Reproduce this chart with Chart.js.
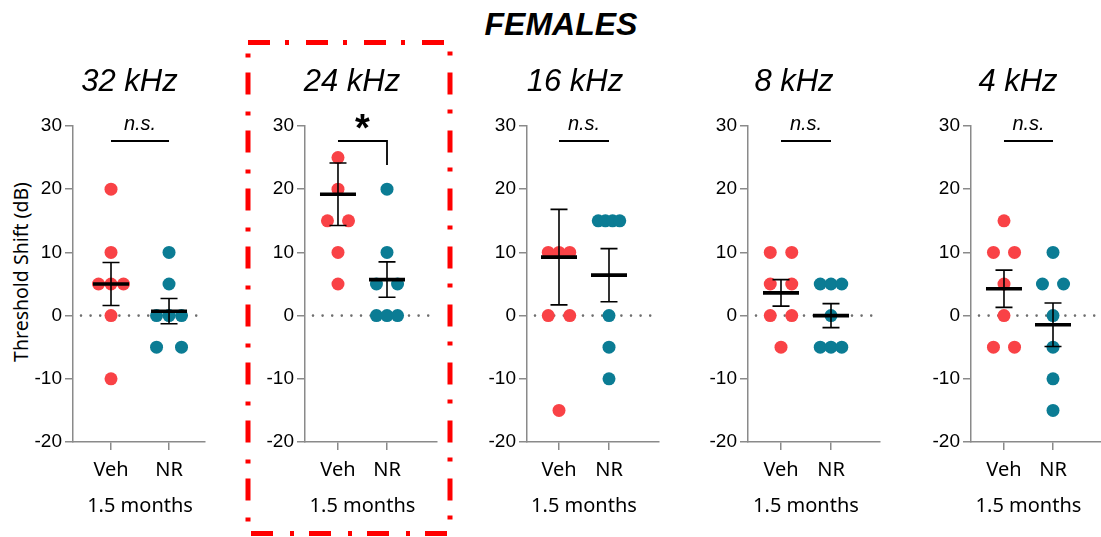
<!DOCTYPE html>
<html>
<head>
<meta charset="utf-8">
<script src="https://cdn.jsdelivr.net/npm/chart.js@4.4.1/dist/chart.umd.min.js"></script>
<style>
body{margin:0;background:#fff;width:1101px;height:537px;overflow:hidden;position:relative;font-family:"Liberation Sans",Arial,sans-serif;color:#000}
.panel{position:absolute;top:0}
.ttl{position:absolute;top:65px;font-style:italic;font-size:31px;line-height:32px;white-space:nowrap;transform:translateX(-50%)}
#main{position:absolute;top:8px;left:561px;font-style:italic;font-weight:bold;font-size:32px;line-height:32px;transform:translateX(-50%)}
#ylab{position:absolute;left:20px;top:272px;font-family:"Noto Sans",sans-serif;font-size:19.5px;white-space:nowrap;transform:translate(-50%,-50%) rotate(-90deg)}
#box{position:absolute;left:0;top:0;pointer-events:none}
</style>
</head>
<body>
<div id="main">FEMALES</div>
<div id="ylab"></div>
<canvas id="box" width="1101" height="537"></canvas>
<script>
var freqLabels = ["32 kHz", "24 kHz", "16 kHz", "8 kHz", "4 kHz"];
var groupLabels = ["Veh", "NR"];
var vehValues = [
    [20, 10, 5, 5, 5, 0, -10],
    [25, 20, 15, 15, 10, 5],
    [10, 10, 10, 0, 0, -15],
    [10, 10, 5, 5, 0, 0, -5],
    [15, 10, 10, 5, 0, -5, -5]
];
var nrValues = [
    [10, 5, 0, 0, 0, -5, -5],
    [20, 10, 5, 5, 0, 0, 0],
    [15, 15, 15, 15, 0, -5, -10],
    [5, 5, 5, 0, -5, -5, -5],
    [10, 5, 5, 0, -5, -10, -15]
];
var vehMean = [5.0, 19.2, 9.25, 3.6, 4.25];
var vehSem = [3.4, 4.95, 7.55, 2.1, 2.95];
var nrMean = [0.7, 5.7, 6.4, 0.0, -1.45];
var nrSem = [2.0, 2.8, 4.2, 1.9, 3.45];
var sigLabels = ["n.s.", "*", "n.s.", "n.s.", "n.s."];
var yTicks = [-20, -10, 0, 10, 20, 30];
var xAxisTitle = "1.5 months";
var yAxisTitle = "Threshold Shift (dB)";
var mainTitle = "FEMALES";

var vehColor = "rgb(249, 66, 70)";
var nrColor = "rgb(11, 124, 148)";
var axisColor = "#8a8a8a";

// layout of the five panels
var axisLeft = [73, 305, 527, 748, 971];
var xRange = [[0.345, 2.62], [0.327, 3.02], [0.36, 3.0], [0.34, 2.98], [0.327, 3.02]];
var titleCenter = [129.5, 352, 575, 794, 1018];
var spreadWidth = 0.43;

document.getElementById("main").textContent = mainTitle;
document.getElementById("ylab").textContent = yAxisTitle;

// spread equal values side by side around the group centre
function spreadPoints(values, center){
    var counts = {};
    var seen = {};
    values.forEach(v => { counts[v] = (counts[v] || 0) + 1; });
    return values.map(v => {
        var n = counts[v];
        seen[v] = seen[v] === undefined ? 0 : seen[v] + 1;
        var off = n > 1 ? (seen[v] - (n - 1) / 2) * spreadWidth / (n - 1) : 0;
        return {x: center + off, y: v};
    });
}

function extrasPlugin(i){
    return {
        id: "extras" + i,
        beforeDatasetsDraw(chart){
            var ctx = chart.ctx, a = chart.chartArea, y0 = chart.scales.y.getPixelForValue(0);
            ctx.save();
            ctx.strokeStyle = "#6e6e6e";
            ctx.lineWidth = 2.6;
            ctx.lineCap = "round";
            ctx.setLineDash([0, 9.6]);
            ctx.beginPath();
            ctx.moveTo(a.left + 8, y0);
            ctx.lineTo(a.right - 4, y0);
            ctx.stroke();
            ctx.restore();
        },
        afterDatasetsDraw(chart){
            var ctx = chart.ctx, xs = chart.scales.x, ys = chart.scales.y;
            var means = [vehMean[i], nrMean[i]], sems = [vehSem[i], nrSem[i]];
            ctx.save();
            ctx.strokeStyle = "#000";
            for(let g = 0; g < 2; g++){
                let cx = xs.getPixelForValue(g + 1);
                let yt = ys.getPixelForValue(means[g] + sems[g]);
                let yb = ys.getPixelForValue(means[g] - sems[g]);
                let ym = ys.getPixelForValue(means[g]);
                ctx.lineWidth = 1.6;
                ctx.beginPath();
                ctx.moveTo(cx, yt); ctx.lineTo(cx, yb);
                ctx.moveTo(cx - 8.5, yt); ctx.lineTo(cx + 8.5, yt);
                ctx.moveTo(cx - 8.5, yb); ctx.lineTo(cx + 8.5, yb);
                ctx.stroke();
                ctx.lineWidth = 3.6;
                ctx.beginPath();
                ctx.moveTo(cx - 18, ym); ctx.lineTo(cx + 18, ym);
                ctx.stroke();
            }
            ctx.restore();
        },
        afterDraw(chart){
            var ctx = chart.ctx, xs = chart.scales.x, a = chart.chartArea;
            var x1 = xs.getPixelForValue(1), x2 = xs.getPixelForValue(2), xm = xs.getPixelForValue(1.5);
            var yb = a.top + 15;
            ctx.save();
            ctx.strokeStyle = "#000";
            ctx.fillStyle = "#000";
            ctx.lineWidth = 1.8;
            ctx.beginPath();
            ctx.moveTo(x1, yb); ctx.lineTo(x2, yb);
            if(sigLabels[i] == "*"){
                ctx.lineTo(x2, yb + 24);
            }
            ctx.stroke();
            ctx.textAlign = "center";
            ctx.textBaseline = "alphabetic";
            if(sigLabels[i] == "*"){
                ctx.font = "bold 38px 'Liberation Sans', Arial";
                ctx.fillText(sigLabels[i], xm, a.top + 15);
            }else{
                ctx.font = "italic 20px 'Liberation Sans', Arial";
                ctx.fillText(sigLabels[i], xm, a.top + 4);
            }
            ctx.font = "20px 'Noto Sans', sans-serif";
            ctx.fillText(xAxisTitle, xm, 512);
            ctx.restore();
        }
    };
}

freqLabels.forEach((label, i) => {
    var t = document.createElement("div");
    t.className = "ttl";
    t.style.left = titleCenter[i] + "px";
    t.textContent = label;
    document.body.appendChild(t);

    var canvas = document.createElement("canvas");
    canvas.className = "panel";
    canvas.width = 225;
    canvas.height = 537;
    canvas.style.left = (axisLeft[i] - 73) + "px";
    document.body.insertBefore(canvas, document.getElementById("box"));

    new Chart(canvas, {
        type: "scatter",
        data: {
            datasets: [
                {data: spreadPoints(vehValues[i], 1), backgroundColor: vehColor, pointRadius: 6.5, pointHoverRadius: 6.5, borderWidth: 0},
                {data: spreadPoints(nrValues[i], 2), backgroundColor: nrColor, pointRadius: 6.5, pointHoverRadius: 6.5, borderWidth: 0}
            ]
        },
        options: {
            responsive: false,
            animation: false,
            events: [],
            layout: {padding: {top: 126, right: 20, left: 0, bottom: 0}},
            plugins: {legend: {display: false}, tooltip: {enabled: false}},
            scales: {
                x: {
                    type: "linear",
                    min: xRange[i][0],
                    max: xRange[i][1],
                    afterFit: s => { s.height = 95; },
                    afterBuildTicks: s => { s.ticks = [{value: 1}, {value: 2}]; },
                    ticks: {callback: v => groupLabels[v - 1], font: {family: "Noto Sans", size: 20}, color: "#000", padding: 8, autoSkip: false, maxRotation: 0},
                    grid: {drawOnChartArea: false, tickLength: 8, color: axisColor, lineWidth: 1.5},
                    border: {color: axisColor, width: 1.5}
                },
                y: {
                    min: -20,
                    max: 30,
                    afterFit: s => { s.width = 73; },
                    afterBuildTicks: s => { s.ticks = yTicks.map(v => ({value: v})); },
                    ticks: {font: {family: "Liberation Sans", size: 19}, color: "#000", padding: 3},
                    grid: {drawOnChartArea: false, tickLength: 8, color: axisColor, lineWidth: 1.5},
                    border: {color: axisColor, width: 1.5}
                }
            }
        },
        plugins: [extrasPlugin(i)]
    });
});

// red dash-dot highlight box around the 24 kHz panel
var bctx = document.getElementById("box").getContext("2d");
bctx.strokeStyle = "#ff0000";
bctx.lineWidth = 5;
bctx.setLineDash([22, 15, 4, 17]);
bctx.strokeRect(248, 42.5, 202, 491);
</script>
</body>
</html>
